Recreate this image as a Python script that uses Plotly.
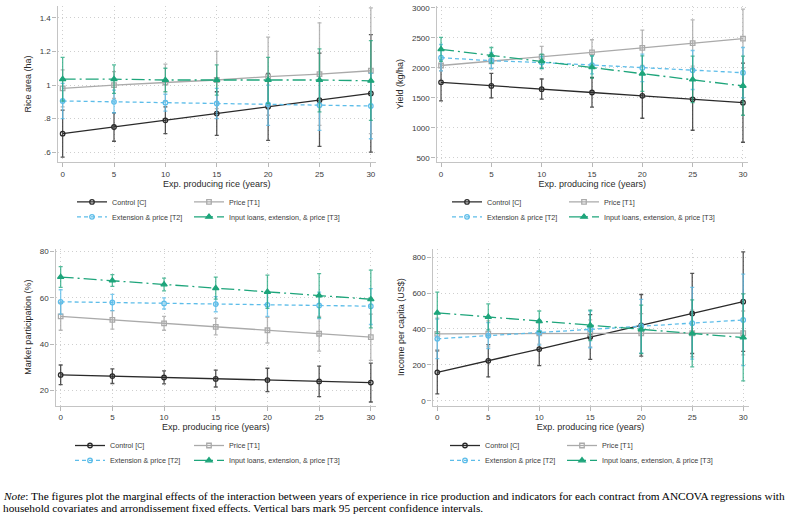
import plotly.graph_objects as go

W, H = 789, 520

years = [0, 5, 10, 15, 20, 25, 30]
series_names = ["Control [C]", "Price [T1]", "Extension & price [T2]", "Input loans, extension, & price [T3]"]

# Panel 1: Rice area (ha)
area_c = [0.71, 0.75, 0.79, 0.83, 0.87, 0.91, 0.95]
area_c_lo = [0.57, 0.665, 0.71, 0.70, 0.67, 0.635, 0.60]
area_c_hi = [0.85, 0.835, 0.87, 0.96, 1.07, 1.19, 1.30]
area_t1 = [0.98, 1.00, 1.015, 1.03, 1.05, 1.065, 1.085]
area_t1_lo = [0.87, 0.92, 0.905, 0.86, 0.82, 0.76, 0.71]
area_t1_hi = [1.09, 1.08, 1.125, 1.20, 1.285, 1.37, 1.46]
area_t2 = [0.905, 0.90, 0.895, 0.89, 0.885, 0.88, 0.875]
area_t2_lo = [0.80, 0.835, 0.845, 0.80, 0.76, 0.73, 0.68]
area_t2_hi = [1.01, 0.97, 0.945, 0.98, 1.00, 1.03, 1.07]
area_t3 = [1.035, 1.035, 1.03, 1.03, 1.03, 1.03, 1.025]
area_t3_lo = [0.905, 0.95, 0.96, 0.94, 0.89, 0.84, 0.79]
area_t3_hi = [1.165, 1.12, 1.10, 1.12, 1.165, 1.215, 1.265]

# Panel 2: Yield (kg/ha)
yield_c = [1760, 1700, 1645, 1590, 1535, 1475, 1420]
yield_c_lo = [1450, 1500, 1480, 1345, 1160, 960, 760]
yield_c_hi = [2070, 1910, 1815, 1840, 1910, 1990, 2080]
yield_t1 = [2040, 2110, 2185, 2260, 2335, 2415, 2490]
yield_t1_lo = [1950, 1990, 2010, 2050, 2040, 2030, 2000]
yield_t1_hi = [2130, 2230, 2360, 2470, 2630, 2800, 2980]
yield_t2 = [2170, 2120, 2090, 2045, 2000, 1960, 1920]
yield_t2_lo = [1950, 1990, 1990, 1900, 1770, 1640, 1500]
yield_t2_hi = [2390, 2260, 2190, 2200, 2230, 2290, 2340]
yield_t3 = [2310, 2210, 2110, 2010, 1905, 1805, 1700]
yield_t3_lo = [2110, 2080, 1990, 1830, 1610, 1420, 1210]
yield_t3_hi = [2510, 2340, 2230, 2200, 2200, 2195, 2195]

# Panel 3: Market participation (%)
mkt_c = [26.7, 26.2, 25.6, 25.0, 24.5, 23.9, 23.4]
mkt_c_lo = [22.5, 23.0, 22.8, 21.5, 19.5, 17.3, 15.0]
mkt_c_hi = [31.0, 29.3, 28.5, 28.8, 29.6, 30.5, 31.8]
mkt_t1 = [52.0, 50.5, 49.0, 47.5, 46.0, 44.5, 43.0]
mkt_t1_lo = [46.0, 46.5, 46.0, 44.0, 40.5, 37.0, 33.0]
mkt_t1_hi = [58.0, 54.5, 52.0, 51.2, 51.6, 52.0, 53.0]
mkt_t2 = [58.3, 58.0, 57.6, 57.3, 57.0, 56.7, 56.4]
mkt_t2_lo = [53.0, 54.5, 55.2, 54.0, 52.0, 51.0, 48.5]
mkt_t2_hi = [63.5, 61.5, 60.0, 60.5, 62.0, 62.5, 64.0]
mkt_t3 = [69.0, 67.5, 65.8, 64.2, 62.6, 61.0, 59.4]
mkt_t3_lo = [64.5, 65.0, 63.0, 59.5, 55.5, 51.5, 47.0]
mkt_t3_hi = [73.5, 70.0, 68.5, 69.0, 69.8, 70.5, 72.0]

# Panel 4: Income per capita (US$)
inc_c = [158, 222, 288, 355, 420, 486, 552]
inc_c_lo = [38, 133, 196, 230, 248, 263, 275]
inc_c_hi = [278, 312, 380, 480, 592, 710, 830]
inc_t1 = [373, 374, 375, 375, 376, 376, 377]
inc_t1_lo = [285, 300, 315, 300, 265, 245, 255]
inc_t1_hi = [460, 445, 435, 450, 485, 505, 500]
inc_t2 = [345, 362, 380, 397, 415, 432, 450]
inc_t2_lo = [235, 290, 310, 295, 265, 232, 195]
inc_t2_hi = [455, 435, 450, 500, 565, 632, 705]
inc_t3 = [490, 467, 443, 420, 397, 375, 352]
inc_t3_lo = [375, 395, 385, 335, 262, 188, 110]
inc_t3_hi = [605, 540, 500, 505, 533, 562, 595]

x_title = "Exp. producing rice (years)"
x_ticks = [0, 5, 10, 15, 20, 25, 30]
area_ticks = [0.6, 0.8, 1.0, 1.2, 1.4]
area_ticktext = [".6", ".8", "1", "1.2", "1.4"]
yield_ticks = [500, 1000, 1500, 2000, 2500, 3000]
mkt_ticks = [20, 40, 60, 80]
inc_ticks = [0, 200, 400, 600, 800]

# styles
line_colors = ["#2a2a2a", "#aaaaaa", "#5dbde9", "#1ea57b"]
err_colors = ["rgba(42,42,42,0.8)", "rgba(170,170,170,0.85)", "rgba(93,189,233,0.8)", "rgba(30,165,123,0.75)"]
dashes = ["solid", "solid", "4px,3px", "13px,4px,2px,4px"]
symbols = ["circle-open", "square-open", "circle-open", "triangle-up"]
msizes = [4.5, 4.5, 4.5, 5.5]

panels = [
    dict(title="Rice area (ha)", data=[(area_c, area_c_lo, area_c_hi), (area_t1, area_t1_lo, area_t1_hi),
                                       (area_t2, area_t2_lo, area_t2_hi), (area_t3, area_t3_lo, area_t3_hi)],
         ticks=area_ticks, ticktext=area_ticktext,
         px_x=(57.5, 376), px_y=(4, 161), xr=[-0.5, 30.5], yr=[0.541, 1.471],
         leg_x=(113, 230), leg_y=(202, 217)),
    dict(title="Yield (kg/ha)", data=[(yield_c, yield_c_lo, yield_c_hi), (yield_t1, yield_t1_lo, yield_t1_hi),
                                      (yield_t2, yield_t2_lo, yield_t2_hi), (yield_t3, yield_t3_lo, yield_t3_hi)],
         ticks=yield_ticks, ticktext=[str(v) for v in yield_ticks],
         px_x=(436.5, 748), px_y=(4, 161), xr=[-0.45, 30.5], yr=[429, 3033],
         leg_x=(488, 605), leg_y=(202, 217)),
    dict(title="Market participation (%)", data=[(mkt_c, mkt_c_lo, mkt_c_hi), (mkt_t1, mkt_t1_lo, mkt_t1_hi),
                                                 (mkt_t2, mkt_t2_lo, mkt_t2_hi), (mkt_t3, mkt_t3_lo, mkt_t3_hi)],
         ticks=mkt_ticks, ticktext=[str(v) for v in mkt_ticks],
         px_x=(55.5, 376), px_y=(248, 406), xr=[-0.5, 30.5], yr=[13.43, 81.3],
         leg_x=(111, 230), leg_y=(447, 462)),
    dict(title="Income per capita (US$)", data=[(inc_c, inc_c_lo, inc_c_hi), (inc_t1, inc_t1_lo, inc_t1_hi),
                                               (inc_t2, inc_t2_lo, inc_t2_hi), (inc_t3, inc_t3_lo, inc_t3_hi)],
         ticks=inc_ticks, ticktext=[str(v) for v in inc_ticks],
         px_x=(432.5, 748.5), px_y=(248, 406), xr=[-0.47, 30.52], yr=[-27.7, 848],
         leg_x=(486, 603), leg_y=(447, 462)),
]

fig = go.Figure()
layout = dict(width=W, height=H, margin=dict(l=0, r=0, t=0, b=0),
              paper_bgcolor="white", plot_bgcolor="white", showlegend=True,
              font=dict(family="Liberation Sans, Arial", color="#3a3a3a", size=8))

for p_i, p in enumerate(panels):
    n = p_i + 1
    xa = "x" if n == 1 else f"x{n}"
    ya = "y" if n == 1 else f"y{n}"
    for s_i, (est, lo, hi) in enumerate(p["data"]):
        k = 4 * p_i + s_i + 1
        leg = "legend" if k == 1 else f"legend{k}"
        col = 0 if s_i in (0, 2) else 1
        row = 0 if s_i in (0, 1) else 1
        fig.add_trace(go.Scatter(
            x=years, y=est, xaxis=xa, yaxis=ya, name=series_names[s_i],
            mode="lines+markers", legend=leg, showlegend=True,
            line=dict(color=line_colors[s_i], width=1.3, dash=dashes[s_i]),
            marker=dict(symbol=symbols[s_i], size=msizes[s_i],
                        color=line_colors[s_i], line=dict(width=1.3, color=line_colors[s_i])),
            error_y=dict(type="data", symmetric=False,
                         array=[h - e for h, e in zip(hi, est)],
                         arrayminus=[e - l for e, l in zip(est, lo)],
                         color=err_colors[s_i], thickness=1.3, width=2),
            hoverinfo="skip",
        ))
        layout[leg] = dict(orientation="v", x=(p["leg_x"][col] - 41) / W, xanchor="left",
                           y=1 - (p["leg_y"][row] - 15.5) / H, yanchor="top",
                           bgcolor="rgba(0,0,0,0)", borderwidth=0,
                           font=dict(size=7.2, color="#3a3a3a"), itemwidth=30)
    xkey = "xaxis" if n == 1 else f"xaxis{n}"
    ykey = "yaxis" if n == 1 else f"yaxis{n}"
    axis_common = dict(showline=True, linecolor="#c4c4c4", linewidth=1.3,
                       ticks="outside", ticklen=4, tickcolor="#b8b8b8", tickwidth=1,
                       showgrid=True, gridcolor="#cfcfcf", griddash="1px,3px", gridwidth=1,
                       zeroline=False, tickfont=dict(size=8, color="#3a3a3a"))
    layout[xkey] = dict(domain=[p["px_x"][0] / W, p["px_x"][1] / W], range=p["xr"],
                        anchor=ya, tickvals=x_ticks,
                        title=dict(text=x_title, font=dict(size=9, color="#2a2a2a"), standoff=2),
                        **axis_common)
    layout[ykey] = dict(domain=[1 - p["px_y"][1] / H, 1 - p["px_y"][0] / H], range=p["yr"],
                        anchor=xa, tickvals=p["ticks"], ticktext=p["ticktext"],
                        title=dict(text=p["title"], font=dict(size=9, color="#2a2a2a"), standoff=6),
                        **axis_common)

note_font = dict(family="Liberation Serif", size=11.3, color="#000000")
layout["annotations"] = [
    dict(text="<i>Note</i>: The figures plot the marginal effects of the interaction between years of experience in rice production and indicators for each contract from ANCOVA regressions with",
         xref="paper", yref="paper", x=1 / W, y=1 - 497 / H, xanchor="left", yanchor="middle",
         showarrow=False, font=note_font),
    dict(text="household covariates and arrondissement fixed effects. Vertical bars mark 95 percent confidence intervals.",
         xref="paper", yref="paper", x=1 / W, y=1 - 509 / H, xanchor="left", yanchor="middle",
         showarrow=False, font=note_font),
]

fig.update_layout(**layout)
fig.write_html("out.html", config={"displayModeBar": False},
               post_script="document.body.style.margin='0';document.body.style.padding='0';")
